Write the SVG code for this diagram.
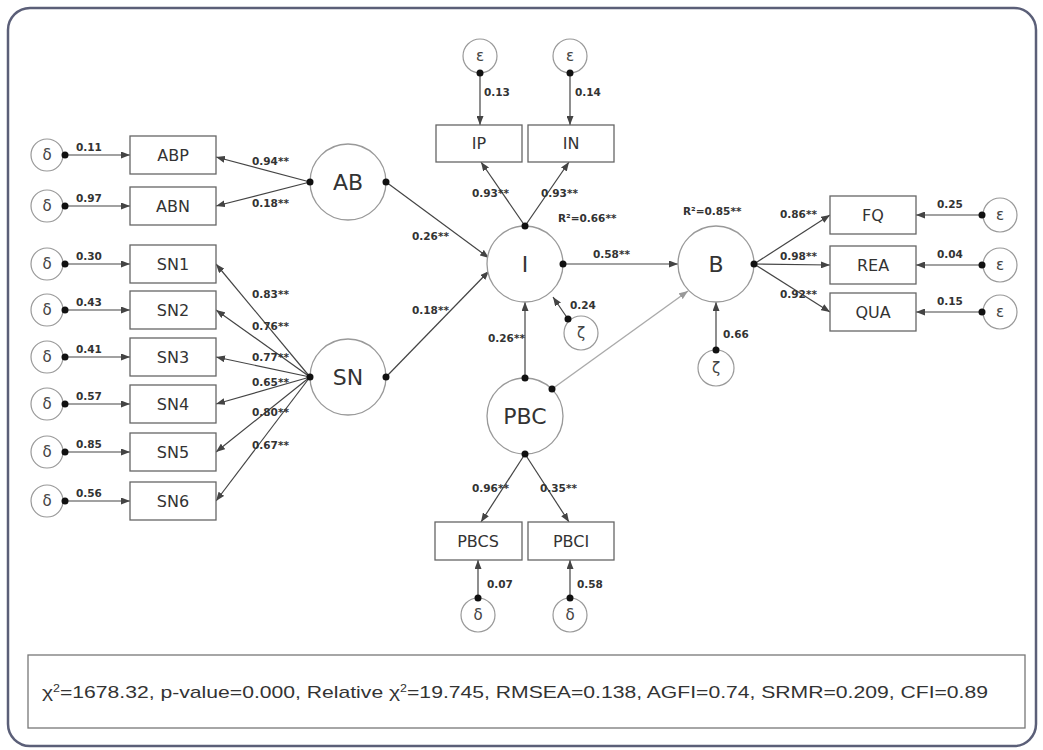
<svg xmlns="http://www.w3.org/2000/svg" width="1043" height="750" viewBox="0 0 1043 750">
<defs>
<marker id="arr" markerUnits="userSpaceOnUse" markerWidth="9" markerHeight="7" refX="9" refY="3.5" orient="auto"><path d="M0,0 L9,3.5 L0,7 z" fill="#444"/></marker>
<marker id="arrL" markerUnits="userSpaceOnUse" markerWidth="9" markerHeight="7" refX="9" refY="3.5" orient="auto"><path d="M0,0 L9,3.5 L0,7 z" fill="#999"/></marker>
<style>
.box{fill:#fff;stroke:#666;stroke-width:1.3}
.lat{fill:#fff;stroke:#999;stroke-width:1.3}
.err{fill:#fff;stroke:#999;stroke-width:1.2}
.ln{stroke:#444;stroke-width:1.2;fill:none;marker-end:url(#arr)}
.lnl{stroke:#aaa;stroke-width:1.4;fill:none;marker-end:url(#arrL)}
.dot{fill:#111}
.bt{font-family:"DejaVu Sans",sans-serif;font-size:16px;fill:#333;text-anchor:middle}
.ct{font-family:"DejaVu Sans",sans-serif;font-size:22px;fill:#333;text-anchor:middle}
.et{font-family:"DejaVu Sans",sans-serif;font-size:15px;fill:#444;text-anchor:middle}
.lb{font-family:"DejaVu Sans",sans-serif;font-size:10.5px;font-weight:bold;fill:#333}
</style>
</defs>
<rect width="1043" height="750" fill="#fff"/>
<rect x="8" y="8" width="1028" height="738" rx="22" fill="#fff" stroke="#5b5f78" stroke-width="2.5"/>

<g id="connectors">
<line class="ln" x1="65" y1="155" x2="130" y2="155"/>
<line class="ln" x1="65" y1="206" x2="130" y2="206"/>
<line class="ln" x1="65" y1="264" x2="130" y2="264"/>
<line class="ln" x1="65" y1="310" x2="130" y2="310"/>
<line class="ln" x1="65" y1="357" x2="130" y2="357"/>
<line class="ln" x1="65" y1="404" x2="130" y2="404"/>
<line class="ln" x1="65" y1="452" x2="130" y2="452"/>
<line class="ln" x1="65" y1="501" x2="130" y2="501"/>
<line class="ln" x1="310" y1="182" x2="216" y2="157"/>
<line class="ln" x1="310" y1="182" x2="216" y2="206"/>
<line class="ln" x1="310" y1="377" x2="216" y2="264"/>
<line class="ln" x1="310" y1="377" x2="216" y2="310"/>
<line class="ln" x1="310" y1="377" x2="216" y2="357"/>
<line class="ln" x1="310" y1="377" x2="216" y2="404"/>
<line class="ln" x1="310" y1="377" x2="216" y2="452"/>
<line class="ln" x1="310" y1="377" x2="216" y2="501"/>
<line class="ln" x1="386" y1="182" x2="489" y2="258"/>
<line class="ln" x1="386" y1="377" x2="489" y2="271"/>
<line class="ln" x1="563" y1="264" x2="678" y2="264"/>
<line class="ln" x1="525" y1="378" x2="525" y2="302"/>
<line class="lnl" x1="552" y1="389" x2="688" y2="291"/>
<line class="ln" x1="568" y1="319" x2="553" y2="297"/>
<line class="ln" x1="716" y1="350" x2="716" y2="302"/>
<line class="ln" x1="525" y1="226" x2="481" y2="162"/>
<line class="ln" x1="525" y1="226" x2="569" y2="162"/>
<line class="ln" x1="480" y1="73" x2="480" y2="125"/>
<line class="ln" x1="570" y1="73" x2="570" y2="125"/>
<line class="ln" x1="525" y1="454" x2="481" y2="522"/>
<line class="ln" x1="525" y1="454" x2="569" y2="522"/>
<line class="ln" x1="478" y1="598" x2="478" y2="560"/>
<line class="ln" x1="570" y1="598" x2="570" y2="560"/>
<line class="ln" x1="754" y1="264" x2="830" y2="215"/>
<line class="ln" x1="754" y1="264" x2="830" y2="265"/>
<line class="ln" x1="754" y1="264" x2="830" y2="312"/>
<line class="ln" x1="982" y1="215" x2="916" y2="215"/>
<line class="ln" x1="982" y1="265" x2="916" y2="265"/>
<line class="ln" x1="982" y1="312" x2="916" y2="312"/>
</g>

<g id="d1"><circle class="err" cx="47" cy="155" r="16"/><text class="et" x="47" y="160">δ</text><circle class="dot" cx="65" cy="155" r="3.5"/></g>
<g id="d2"><circle class="err" cx="47" cy="206" r="16"/><text class="et" x="47" y="211">δ</text><circle class="dot" cx="65" cy="206" r="3.5"/></g>
<g id="d3"><circle class="err" cx="47" cy="264" r="16"/><text class="et" x="47" y="269">δ</text><circle class="dot" cx="65" cy="264" r="3.5"/></g>
<g id="d4"><circle class="err" cx="47" cy="310" r="16"/><text class="et" x="47" y="315">δ</text><circle class="dot" cx="65" cy="310" r="3.5"/></g>
<g id="d5"><circle class="err" cx="47" cy="357" r="16"/><text class="et" x="47" y="362">δ</text><circle class="dot" cx="65" cy="357" r="3.5"/></g>
<g id="d6"><circle class="err" cx="47" cy="404" r="16"/><text class="et" x="47" y="409">δ</text><circle class="dot" cx="65" cy="404" r="3.5"/></g>
<g id="d7"><circle class="err" cx="47" cy="452" r="16"/><text class="et" x="47" y="457">δ</text><circle class="dot" cx="65" cy="452" r="3.5"/></g>
<g id="d8"><circle class="err" cx="47" cy="501" r="16"/><text class="et" x="47" y="506">δ</text><circle class="dot" cx="65" cy="501" r="3.5"/></g>

<g id="ABP"><rect class="box" x="130" y="136" width="86" height="38"/><text class="bt" x="173" y="161">ABP</text></g>
<g id="ABN"><rect class="box" x="130" y="187" width="86" height="38"/><text class="bt" x="173" y="212">ABN</text></g>
<g id="SN1"><rect class="box" x="130" y="245" width="86" height="38"/><text class="bt" x="173" y="270">SN1</text></g>
<g id="SN2"><rect class="box" x="130" y="291" width="86" height="38"/><text class="bt" x="173" y="316">SN2</text></g>
<g id="SN3"><rect class="box" x="130" y="338" width="86" height="38"/><text class="bt" x="173" y="363">SN3</text></g>
<g id="SN4"><rect class="box" x="130" y="385" width="86" height="38"/><text class="bt" x="173" y="410">SN4</text></g>
<g id="SN5"><rect class="box" x="130" y="433" width="86" height="38"/><text class="bt" x="173" y="458">SN5</text></g>
<g id="SN6"><rect class="box" x="130" y="482" width="86" height="38"/><text class="bt" x="173" y="507">SN6</text></g>

<g id="AB"><circle class="lat" cx="348" cy="182" r="38"/><text class="ct" x="348" y="190">AB</text><circle class="dot" cx="310" cy="182" r="3.5"/><circle class="dot" cx="386" cy="182" r="3.5"/></g>
<g id="SN"><circle class="lat" cx="348" cy="377" r="38"/><text class="ct" x="348" y="385">SN</text><circle class="dot" cx="310" cy="377" r="3.5"/><circle class="dot" cx="386" cy="377" r="3.5"/></g>
<g id="I"><circle class="lat" cx="525" cy="264" r="38"/><text class="ct" x="525" y="272">I</text><circle class="dot" cx="525" cy="226" r="3.5"/><circle class="dot" cx="563" cy="264" r="3.5"/></g>
<g id="PBC"><circle class="lat" cx="525" cy="416" r="38"/><text class="ct" x="525" y="424">PBC</text><circle class="dot" cx="525" cy="378" r="3.5"/><circle class="dot" cx="552" cy="389" r="3.5"/><circle class="dot" cx="525" cy="454" r="3.5"/></g>
<g id="B"><circle class="lat" cx="716" cy="264" r="38"/><text class="ct" x="716" y="272">B</text><circle class="dot" cx="754" cy="264" r="3.5"/></g>

<g id="IP"><rect class="box" x="436" y="125" width="86" height="37"/><text class="bt" x="479" y="149">IP</text></g>
<g id="IN"><rect class="box" x="528" y="125" width="86" height="37"/><text class="bt" x="571" y="149">IN</text></g>
<g id="e1"><circle class="err" cx="480" cy="56" r="17"/><text class="et" x="480" y="61">ε</text><circle class="dot" cx="480" cy="73" r="3.5"/></g>
<g id="e2"><circle class="err" cx="570" cy="56" r="17"/><text class="et" x="570" y="61">ε</text><circle class="dot" cx="570" cy="73" r="3.5"/></g>
<g id="z1"><circle class="err" cx="581" cy="333" r="17"/><text class="et" x="581" y="338">ζ</text><circle class="dot" cx="568" cy="319" r="3.5"/></g>

<g id="PBCS"><rect class="box" x="435" y="522" width="87" height="38"/><text class="bt" x="478" y="547">PBCS</text></g>
<g id="PBCI"><rect class="box" x="528" y="522" width="86" height="38"/><text class="bt" x="571" y="547">PBCI</text></g>
<g id="d9"><circle class="err" cx="478" cy="615" r="17"/><text class="et" x="478" y="620">δ</text><circle class="dot" cx="478" cy="598" r="3.5"/></g>
<g id="d10"><circle class="err" cx="570" cy="615" r="17"/><text class="et" x="570" y="620">δ</text><circle class="dot" cx="570" cy="598" r="3.5"/></g>

<g id="FQ"><rect class="box" x="830" y="196" width="86" height="38"/><text class="bt" x="873" y="221">FQ</text></g>
<g id="REA"><rect class="box" x="830" y="246" width="86" height="38"/><text class="bt" x="873" y="271">REA</text></g>
<g id="QUA"><rect class="box" x="830" y="293" width="86" height="38"/><text class="bt" x="873" y="318">QUA</text></g>
<g id="e3"><circle class="err" cx="1000" cy="215" r="17"/><text class="et" x="1000" y="220">ε</text><circle class="dot" cx="982" cy="215" r="3.5"/></g>
<g id="e4"><circle class="err" cx="1000" cy="265" r="17"/><text class="et" x="1000" y="270">ε</text><circle class="dot" cx="982" cy="265" r="3.5"/></g>
<g id="e5"><circle class="err" cx="1000" cy="312" r="17"/><text class="et" x="1000" y="317">ε</text><circle class="dot" cx="982" cy="312" r="3.5"/></g>
<g id="z2"><circle class="err" cx="716" cy="368" r="18"/><text class="et" x="716" y="373">ζ</text><circle class="dot" cx="716" cy="350" r="3.5"/></g>

<g id="labels">
<text class="lb" x="76" y="151">0.11</text>
<text class="lb" x="76" y="202">0.97</text>
<text class="lb" x="76" y="260">0.30</text>
<text class="lb" x="76" y="306">0.43</text>
<text class="lb" x="76" y="353">0.41</text>
<text class="lb" x="76" y="400">0.57</text>
<text class="lb" x="76" y="448">0.85</text>
<text class="lb" x="76" y="497">0.56</text>
<text class="lb" x="252" y="165">0.94**</text>
<text class="lb" x="252" y="207">0.18**</text>
<text class="lb" x="252" y="298">0.83**</text>
<text class="lb" x="252" y="330">0.76**</text>
<text class="lb" x="252" y="361">0.77**</text>
<text class="lb" x="252" y="386">0.65**</text>
<text class="lb" x="252" y="416">0.80**</text>
<text class="lb" x="252" y="449">0.67**</text>
<text class="lb" x="412" y="240">0.26**</text>
<text class="lb" x="412" y="314">0.18**</text>
<text class="lb" x="484" y="96">0.13</text>
<text class="lb" x="575" y="96">0.14</text>
<text class="lb" x="472" y="197">0.93**</text>
<text class="lb" x="541" y="197">0.93**</text>
<text class="lb" x="558" y="222">R²=0.66**</text>
<text class="lb" x="593" y="258">0.58**</text>
<text class="lb" x="570" y="309">0.24</text>
<text class="lb" x="488" y="342">0.26**</text>
<text class="lb" x="472" y="492">0.96**</text>
<text class="lb" x="540" y="492">0.35**</text>
<text class="lb" x="487" y="588">0.07</text>
<text class="lb" x="577" y="588">0.58</text>
<text class="lb" x="683" y="215">R²=0.85**</text>
<text class="lb" x="780" y="218">0.86**</text>
<text class="lb" x="780" y="260">0.98**</text>
<text class="lb" x="780" y="298">0.92**</text>
<text class="lb" x="723" y="338">0.66</text>
<text class="lb" x="937" y="208">0.25</text>
<text class="lb" x="937" y="258">0.04</text>
<text class="lb" x="937" y="305">0.15</text>
</g>

<g id="stats">
<rect x="28" y="655" width="997" height="73" fill="#fff" stroke="#777" stroke-width="1.3"/>
<text x="42" y="698" font-family="Liberation Sans, Arial, sans-serif" font-size="17" fill="#333" textLength="946" lengthAdjust="spacingAndGlyphs">χ<tspan font-size="10" dy="-6">2</tspan><tspan dy="6">=1678.32, p-value=0.000, Relative χ</tspan><tspan font-size="10" dy="-6">2</tspan><tspan dy="6">=19.745, RMSEA=0.138, AGFI=0.74, SRMR=0.209, CFI=0.89</tspan></text>
</g>
</svg>
